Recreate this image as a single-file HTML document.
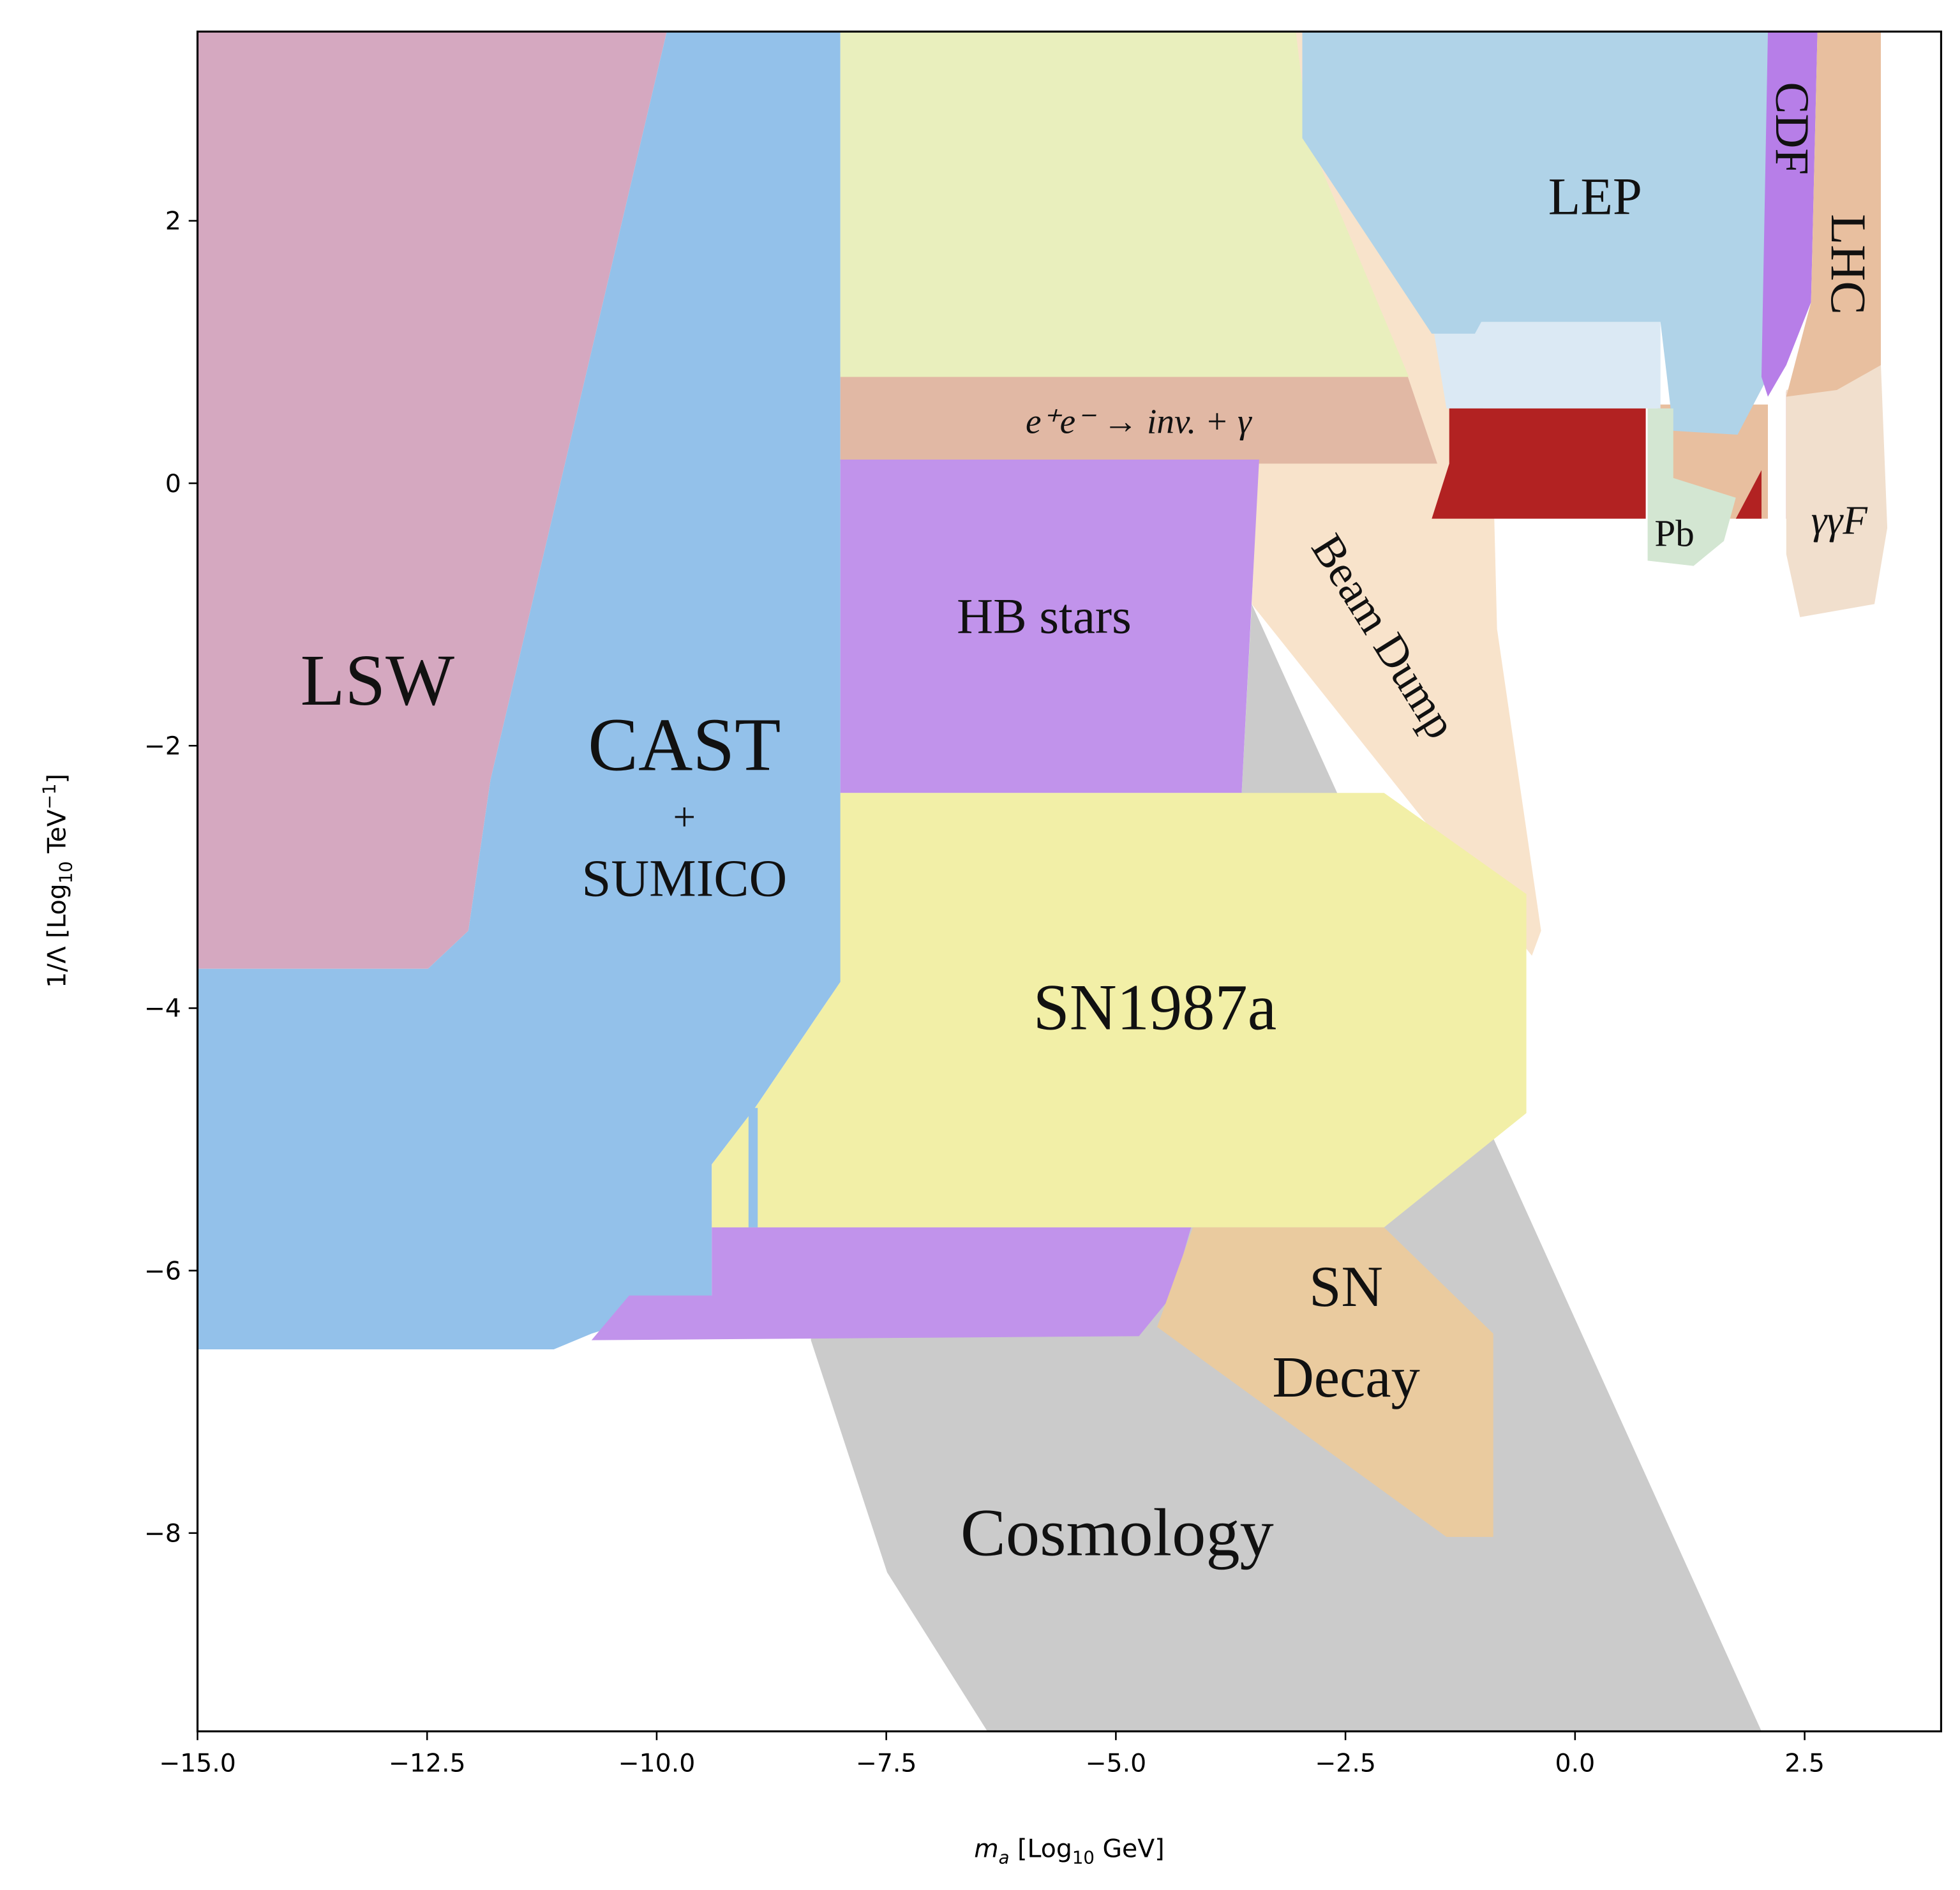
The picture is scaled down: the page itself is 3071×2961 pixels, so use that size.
<!DOCTYPE html>
<html><head><meta charset="utf-8"><style>
html,body{margin:0;padding:0;background:#fff;}
svg{display:block;}
.tk{font-family:"DejaVu Sans","Liberation Sans",sans-serif;fill:#000;}
.lb{font-family:"Liberation Serif",serif;fill:#111;}
</style></head><body>
<svg id="chart" width="3071" height="2961" viewBox="0 0 1558 1502" xmlns="http://www.w3.org/2000/svg">
<defs><clipPath id="pc"><rect x="157" y="25" width="1386" height="1351"/></clipPath></defs>
<rect x="0" y="0" width="1558" height="1502" fill="#fff"/>
<g id="regions" clip-path="url(#pc)"></g>
<g id="labels"></g>
<rect x="157" y="25" width="1386" height="1351" fill="none" stroke="#000" stroke-width="1.6"/>
<g id="axes"></g>
<text class="tk" x="850" y="1476" text-anchor="middle" font-size="20"><tspan font-style="italic">m</tspan><tspan font-size="14" dy="5" font-style="italic">a</tspan><tspan dy="-5"> [Log</tspan><tspan font-size="14" dy="5">10</tspan><tspan dy="-5"> GeV]</tspan></text>
<text class="tk" transform="translate(52,700) rotate(-90)" text-anchor="middle" font-size="20">1/Λ [Log<tspan font-size="14" dy="5">10</tspan><tspan dy="-5"> TeV</tspan><tspan font-size="14" dy="-8">−1</tspan><tspan dy="8">]</tspan></text>
</svg>
<script>
const xTicks = [-15, -12.5, -10, -7.5, -5, -2.5, 0, 2.5];
const xTickLabels = ["−15.0","−12.5","−10.0","−7.5","−5.0","−2.5","0.0","2.5"];
const yTicks = [-8, -6, -4, -2, 0, 2];
const yTickLabels = ["−8","−6","−4","−2","0","2"];

const cosmology = [[-3.52,-0.92],[2.03,-9.51],[-6.40,-9.51],[-7.49,-8.30],[-8.32,-6.53],[-8.0,-2.36],[-3.63,-2.36]];
const beamDump = [[-3.04,3.44],[-2.4,3.44],[-1.2,1.14],[-0.9,0.3],[-0.85,-1.11],[-0.37,-3.41],[-0.47,-3.60],[-3.52,-0.92],[-3.45,0.2]];
const peachUnderLep = [[0.9,0.6],[2.1,0.6],[2.1,-0.27],[0.9,-0.27]];
const lsw = [[-15,3.44],[-9.89,3.44],[-11.81,-2.26],[-12.05,-3.41],[-12.49,-3.70],[-15,-3.70]];
const cast = [[-9.89,3.44],[-8,3.44],[-8,-3.80],[-8.93,-4.76],[-9.40,-5.19],[-9.40,-6.19],[-10.71,-6.48],[-11.12,-6.60],[-15,-6.60],[-15,-3.70],[-12.49,-3.70],[-12.05,-3.41],[-11.81,-2.26]];
const topBand = [[-8,3.44],[-3.04,3.44],[-2.90,2.63],[-1.81,0.81],[-8,0.81]];
const eeBand = [[-8,0.85],[-1.84,0.85],[-1.50,0.15],[-8,0.15]];
const hbStars = [[-8,0.18],[-3.44,0.18],[-3.63,-2.36],[-8,-2.36]];
const hbLower = [[-9.40,-5.62],[-4.16,-5.62],[-4.40,-6.20],[-4.75,-6.50],[-10.71,-6.53],[-10.30,-6.19],[-9.40,-6.19]];
const sn1987a = [[-8,-2.36],[-2.08,-2.36],[-0.53,-3.13],[-0.53,-4.80],[-2.08,-5.67],[-9.40,-5.67],[-9.40,-5.19],[-8.93,-4.76],[-8,-3.80]];
const castSliver = [[-9.0,-4.76],[-8.9,-4.76],[-8.9,-5.67],[-9.0,-5.67]];
const snDecay = [[-4.16,-5.67],[-2.08,-5.67],[-0.89,-6.48],[-0.89,-8.03],[-1.40,-8.03],[-4.55,-6.43]];
const lepLight = [[-1.56,1.25],[0.93,1.25],[0.93,0.57],[-1.40,0.57]];
const lep = [[-2.97,3.44],[2.10,3.44],[2.10,0.81],[1.77,0.37],[1.07,0.40],[0.93,1.23],[-1.02,1.23],[-1.09,1.14],[-1.56,1.14],[-2.97,2.63]];
const pb = [[0.79,0.57],[1.07,0.57],[1.07,0.04],[1.75,-0.11],[1.62,-0.44],[1.29,-0.63],[0.79,-0.59]];
const red = [[-1.37,0.57],[0.77,0.57],[0.77,-0.27],[-1.56,-0.27],[-1.37,0.15]];
const redSmall = [[1.75,-0.27],[2.03,0.10],[2.03,-0.27]];
const redBar = [[2.30,0.70],[2.40,0.70],[2.40,-0.27],[2.30,-0.27]];
const ggF = [[2.30,0.71],[3.33,0.90],[3.40,-0.34],[3.26,-0.92],[2.45,-1.02],[2.30,-0.54]];
const cdf = [[2.10,3.44],[2.64,3.44],[2.57,1.38],[2.30,0.90],[2.10,0.66],[2.03,0.81]];
const lhc = [[2.64,3.44],[3.33,3.44],[3.33,0.90],[2.85,0.71],[2.30,0.66],[2.57,1.38]];

const X = m => 157 + 73 * (m + 15);
const Y = v => 384 - 104.3 * v;
const NS = "http://www.w3.org/2000/svg";
const reg = document.getElementById("regions");
function poly(pts, fill, name){
  const p = document.createElementNS(NS,"polygon");
  p.setAttribute("points", pts.map(d => X(d[0]).toFixed(1)+","+Y(d[1]).toFixed(1)).join(" "));
  p.setAttribute("fill", fill);
  
  
  reg.appendChild(p);
}
poly(cosmology,"#cbcbcb","cosmology-region");
poly(beamDump,"#f8e3cb","beam-dump-region");
poly(peachUnderLep,"#e8bf9f","peach-under-lep-region");
poly(lsw,"#d5a8c0","lsw-region");
poly(cast,"#93c1ea","cast-sumico-region");
poly(eeBand,"#e1b8a4","ee-inv-gamma-region");
poly(topBand,"#e9efbd","top-yellow-region");
poly(hbStars,"#c193eb","hb-stars-region");
poly(hbLower,"#c193eb","hb-stars-lower-region");
poly(sn1987a,"#f2efa7","sn1987a-region");
poly(castSliver,"#93c1ea","cast-sliver");
poly(snDecay,"#eacb9f","sn-decay-region");
poly(lepLight,"#dbe9f4","lep-light-region");
poly(lep,"#b0d3e8","lep-region");
poly(pb,"#d3e6d2","pb-region");
poly(red,"#b22222","red-region");
poly(redSmall,"#b22222","red-small-region");
poly(redBar,"#b22222","red-bar-region");
poly(ggF,"#f1dfcd","gamma-gamma-f-region");
poly(cdf,"#b77ee8","cdf-region");
poly(lhc,"#e8bf9f","lhc-region");

const lab = document.getElementById("labels");
function txt(s,x,y,size,name,rot,italic){
  const t = document.createElementNS(NS,"text");
  t.setAttribute("class","lb");
  t.setAttribute("x",x); t.setAttribute("y",y);
  t.setAttribute("font-size",size);
  t.setAttribute("text-anchor","middle");
  if(italic) t.setAttribute("font-style","italic");
  if(rot) t.setAttribute("transform","rotate("+rot+" "+x+" "+y+")");
  t.textContent = s;
  
  
  lab.appendChild(t);
}
txt("LSW",300,560,58,"lsw-label");
txt("CAST",544,612,60,"cast-label");
txt("+",544,660,32,"plus-label");
txt("SUMICO",544,712,42,"sumico-label");
txt("e⁺e⁻ → inv. + γ",905,344,28,"ee-label",0,true);
txt("HB stars",830,503,40,"hb-stars-label");
txt("SN1987a",918,818,52,"sn1987a-label");
txt("SN",1070,1038,46,"sn-label");
txt("Decay",1070,1110,46,"decay-label");
txt("Cosmology",888,1236,54,"cosmology-label");
txt("LEP",1268,170,42,"lep-label");
txt("Beam Dump",1090,512,36,"beam-dump-label",58);
txt("CDF",1412,102,38,"cdf-label",90);
txt("LHC",1456,210,40,"lhc-label",90);
txt("Pb",1331,434,30,"pb-label");
txt("γγF",1462,424,32,"ggf-label",0,true);

const ax = document.getElementById("axes");
xTicks.forEach((v,i)=>{
  const l = document.createElementNS(NS,"line");
  l.setAttribute("x1",X(v)); l.setAttribute("x2",X(v));
  l.setAttribute("y1",1376); l.setAttribute("y2",1383);
  l.setAttribute("stroke","#000"); l.setAttribute("stroke-width","1.3");
  
  
  ax.appendChild(l);
  const t = document.createElementNS(NS,"text");
  t.setAttribute("class","tk"); t.setAttribute("x",X(v)); t.setAttribute("y",1408);
  t.setAttribute("font-size","20");
  t.setAttribute("text-anchor","middle"); t.textContent = xTickLabels[i];
  
  
  ax.appendChild(t);
});
yTicks.forEach((v,i)=>{
  const l = document.createElementNS(NS,"line");
  l.setAttribute("x1",150); l.setAttribute("x2",157);
  l.setAttribute("y1",Y(v)); l.setAttribute("y2",Y(v));
  l.setAttribute("stroke","#000"); l.setAttribute("stroke-width","1.3");
  
  
  ax.appendChild(l);
  const t = document.createElementNS(NS,"text");
  t.setAttribute("class","tk"); t.setAttribute("x",144); t.setAttribute("y",Y(v)+7);
  t.setAttribute("font-size","20");
  t.setAttribute("text-anchor","end"); t.textContent = yTickLabels[i];
  
  
  ax.appendChild(t);
});
</script>
</body></html>
